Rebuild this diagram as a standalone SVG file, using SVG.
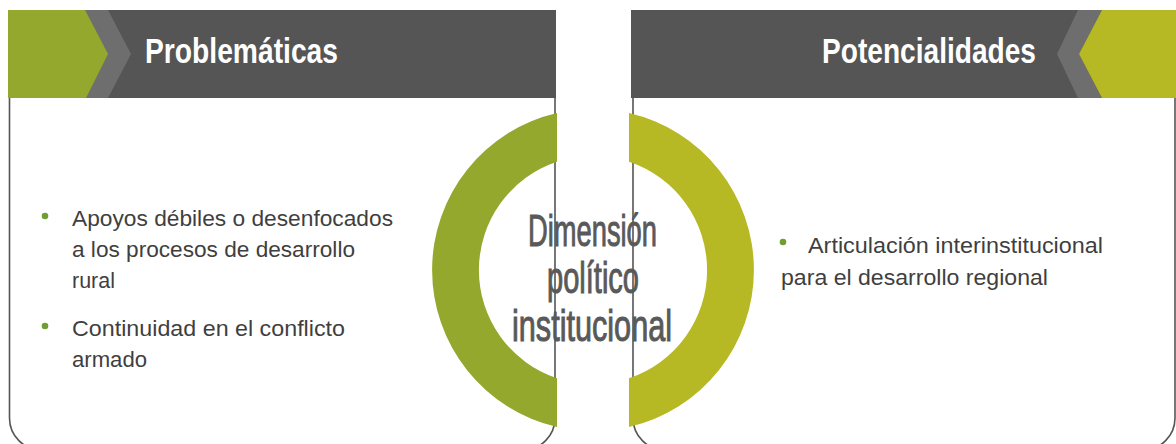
<svg xmlns="http://www.w3.org/2000/svg" width="1176" height="444" viewBox="0 0 1176 444">
<style>
.box{fill:#ffffff;stroke:#555555;stroke-width:1.6}
.hdr{fill:#555555}
.chev{fill:#6e6e6e}
.g1{fill:#93a82d}
.g2{fill:#b6b824}
.htxt{font-family:'Liberation Sans Narrow','Liberation Sans',Arial,sans-serif;font-weight:bold;font-size:35px;fill:#ffffff}
.btxt{font-family:'Liberation Sans',Arial,sans-serif;font-size:22px;fill:#3f3f3f}
.ctxt{font-family:'Liberation Sans Narrow','Liberation Sans',Arial,sans-serif;font-size:44px;fill:#595959;stroke:#595959;stroke-width:1}
.dot{fill:#6f9e33}
</style>
<rect width="1176" height="444" fill="#ffffff"/>
<g id="problematicas">
<rect class="box" x="9.5" y="40" width="545.5" height="410" rx="32"/>
<rect class="hdr" x="8" y="10" width="548" height="88"/>
<polygon class="chev" points="85,10 108,10 131,54 108,98 85,98"/>
<polygon class="g1" points="8,10 85,10 108,54 86,98 8,98"/>
<text class="htxt" x="145" y="63" textLength="193" lengthAdjust="spacingAndGlyphs">Problemáticas</text>
<circle class="dot" cx="45" cy="216" r="3.3"/>
<text class="btxt" x="72" y="226" textLength="321" lengthAdjust="spacingAndGlyphs">Apoyos débiles o desenfocados</text>
<text class="btxt" x="72" y="257" textLength="283" lengthAdjust="spacingAndGlyphs">a los procesos de desarrollo</text>
<text class="btxt" x="72" y="288" textLength="43" lengthAdjust="spacingAndGlyphs">rural</text>
<circle class="dot" cx="45" cy="326" r="3.3"/>
<text class="btxt" x="72" y="336" textLength="273" lengthAdjust="spacingAndGlyphs">Continuidad en el conflicto</text>
<text class="btxt" x="72" y="367" textLength="75" lengthAdjust="spacingAndGlyphs">armado</text>
</g>
<g id="potencialidades">
<rect class="box" x="633" y="40" width="542" height="410" rx="32"/>
<rect class="hdr" x="631" y="10" width="545" height="88"/>
<polygon class="chev" points="1078,10 1102,10 1079,54 1102,98 1078,98 1057,54"/>
<polygon class="g2" points="1102,10 1176,10 1176,98 1102,98 1079,54"/>
<text class="htxt" x="822" y="63" textLength="214" lengthAdjust="spacingAndGlyphs">Potencialidades</text>
<circle class="dot" cx="783" cy="242" r="3.3"/>
<text class="btxt" x="808" y="253" textLength="295" lengthAdjust="spacingAndGlyphs">Articulación interinstitucional</text>
<text class="btxt" x="781" y="285" textLength="267" lengthAdjust="spacingAndGlyphs">para el desarrollo regional</text>
</g>
<g id="dimension">
<path class="g1" d="M557,113.1 A161,161 0 0 0 557,426.9 L557,378.2 A114,114 0 0 1 557,161.8 Z"/>
<path class="g2" d="M629,113.1 A161,161 0 0 1 629,426.9 L629,378.2 A114,114 0 0 0 629,161.8 Z"/>
<text class="ctxt" x="528" y="246" textLength="129" lengthAdjust="spacingAndGlyphs">Dimensión</text>
<text class="ctxt" x="547" y="293" textLength="92" lengthAdjust="spacingAndGlyphs">político</text>
<text class="ctxt" x="512" y="341" textLength="160" lengthAdjust="spacingAndGlyphs">institucional</text>
</g>
<g id="connectors"></g>
</svg>
